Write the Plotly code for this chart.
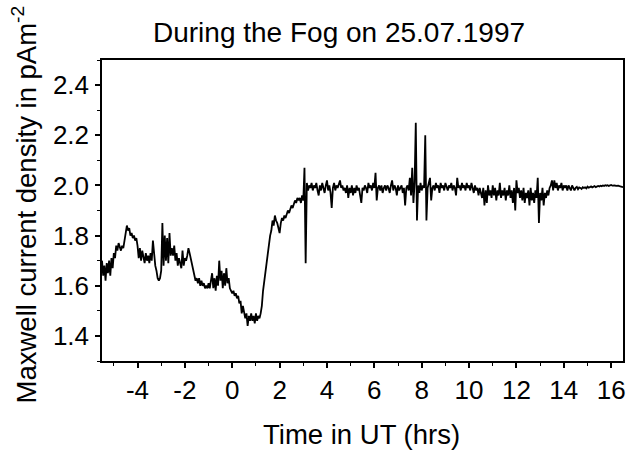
import numpy as np
import plotly.graph_objects as go

# ---- data ----
START_HR = -5.5
STEP_HR = 0.05

current_density = [
    # -5.50 .. -4.55
    1.70, 1.64, 1.68, 1.62, 1.69, 1.65, 1.70, 1.64, 1.71, 1.67, 1.73, 1.71, 1.76, 1.74, 1.77, 1.75, 1.74, 1.76, 1.75, 1.78,
    # -4.50 .. -3.55
    1.81, 1.84, 1.82, 1.83, 1.80, 1.81, 1.79, 1.80, 1.78, 1.79, 1.76, 1.71, 1.75, 1.70, 1.74, 1.72, 1.69, 1.73, 1.70, 1.72,
    # -3.50 .. -2.55
    1.69, 1.73, 1.70, 1.78, 1.71, 1.68, 1.66, 1.63, 1.62, 1.63, 1.66, 1.85, 1.68, 1.80, 1.70, 1.79, 1.69, 1.81, 1.72, 1.75,
    # -2.50 .. -1.55
    1.72, 1.76, 1.70, 1.73, 1.68, 1.71, 1.69, 1.67, 1.74, 1.68, 1.71, 1.70, 1.72, 1.75, 1.73, 1.71, 1.69, 1.66, 1.64, 1.62,
    # -1.50 .. -0.55
    1.63, 1.61, 1.63, 1.60, 1.62, 1.60, 1.61, 1.59, 1.60, 1.59, 1.61, 1.59, 1.62, 1.65, 1.59, 1.63, 1.58, 1.64, 1.60, 1.70,
    # -0.50 .. 0.45
    1.62, 1.66, 1.59, 1.65, 1.60, 1.67, 1.61, 1.63, 1.59, 1.58, 1.57, 1.58, 1.56, 1.57, 1.55, 1.56, 1.53, 1.54, 1.49, 1.52,
    # 0.50 .. 1.45
    1.50, 1.47, 1.49, 1.44, 1.48, 1.46, 1.49, 1.46, 1.48, 1.45, 1.49, 1.46, 1.48, 1.47, 1.49, 1.52, 1.58, 1.62, 1.66, 1.70,
    # 1.50 .. 2.45
    1.74, 1.77, 1.80, 1.82, 1.86, 1.84, 1.88, 1.86, 1.85, 1.83, 1.81, 1.85, 1.87, 1.86, 1.88, 1.87, 1.89, 1.90, 1.89, 1.91,
    # 2.50 .. 3.45
    1.92, 1.91, 1.93, 1.94, 1.93, 1.95, 1.94, 1.95, 1.93, 1.96, 1.94, 2.07, 1.69, 2.01, 1.98, 2.00, 1.99, 2.01, 1.98, 2.00,
    # 3.50 .. 4.45
    1.99, 2.01, 1.98, 1.96, 2.00, 1.98, 2.01, 1.99, 1.97, 2.00, 2.02, 1.98, 2.00, 1.97, 1.91, 1.99, 2.01, 1.98, 2.00, 1.99,
    # 4.50 .. 5.45
    2.01, 2.02, 1.99, 2.00, 1.98, 1.99, 1.97, 2.00, 1.95, 1.99, 1.97, 2.00, 1.96, 1.99, 1.97, 2.00, 1.98, 1.99, 1.96, 1.93,
    # 5.50 .. 6.45
    1.99, 1.98, 2.00, 1.99, 1.97, 2.01, 1.99, 2.00, 1.98, 2.01, 1.99, 2.05, 1.94, 1.99, 2.00, 1.98, 2.00, 1.97, 1.99, 2.00,
    # 6.50 .. 7.45
    1.98, 2.00, 1.99, 1.97, 2.00, 2.02, 1.98, 2.00, 1.99, 1.96, 2.00, 1.98, 1.99, 2.00, 1.97, 1.99, 1.92, 1.99, 2.00, 1.98,
    # 7.50 .. 8.45
    2.03, 1.96, 2.07, 1.93, 2.01, 2.25, 1.86, 2.00, 1.97, 2.01, 1.98, 2.00, 1.99, 2.20, 1.86, 1.99, 2.01, 2.03, 1.94, 1.99,
    # 8.50 .. 9.45
    2.00, 1.98, 2.01, 1.99, 2.00, 1.97, 2.01, 1.99, 2.00, 1.98, 2.01, 1.99, 1.98, 2.00, 1.99, 2.01, 1.98, 2.00, 1.99, 1.96,
    # 9.50 .. 10.45
    2.03, 1.99, 2.00, 1.98, 2.01, 1.99, 2.00, 1.98, 2.01, 1.99, 2.00, 1.98, 2.01, 1.99, 1.97, 2.00, 1.98, 1.99, 1.96, 1.99,
    # 10.50 .. 11.45
    1.97, 1.95, 1.99, 1.92, 1.98, 1.93, 2.00, 1.96, 1.98, 1.95, 2.00, 1.96, 1.99, 1.94, 1.98, 1.96, 2.01, 1.95, 1.98, 1.96,
    # 11.50 .. 12.45
    1.99, 1.94, 1.98, 1.96, 2.00, 1.95, 1.98, 1.93, 1.99, 1.90, 2.02, 1.97, 1.99, 1.95, 1.98, 1.94, 1.99, 1.93, 1.97, 1.95,
    # 12.50 .. 13.45
    1.98, 1.92, 1.99, 1.94, 1.97, 1.93, 1.98, 1.95, 2.03, 1.85, 1.97, 1.94, 1.99, 1.92, 1.97, 1.95, 1.98, 1.96, 1.99, 2.00,
    # 13.50 .. 14.45
    2.02, 1.98, 2.02, 1.99, 2.01, 1.98, 2.00, 1.99, 2.01, 1.98, 2.00, 1.99, 2.00, 1.98, 2.00, 1.99, 1.98, 2.00, 1.99, 1.98,
    # 14.50 .. 15.45
    1.990, 1.994, 1.985, 1.992, 1.990, 1.986, 1.993, 1.990, 1.992, 1.988, 1.995, 1.991, 1.993, 1.996, 1.992, 1.994, 1.997, 1.993, 1.996, 1.998,
    # 15.50 .. 16.50
    1.996, 1.999, 1.997, 2.000, 1.998, 2.001, 1.999, 2.001, 1.998, 2.000, 2.002, 1.999, 2.001, 2.000, 1.998, 2.000, 1.999, 1.997, 1.996, 1.994, 1.993,
]

x_tick_vals = [-4, -2, 0, 2, 4, 6, 8, 10, 12, 14, 16]
x_tick_text = ["-4", "-2", "0", "2", "4", "6", "8", "10", "12", "14", "16"]
y_tick_vals = [1.4, 1.6, 1.8, 2.0, 2.2, 2.4]
y_tick_text = ["1.4", "1.6", "1.8", "2.0", "2.2", "2.4"]

title_text = "During the Fog on 25.07.1997"
x_title = "Time in UT (hrs)"
y_title = "Maxwell current density in pAm<sup>-2</sup>"

time_hr = START_HR + STEP_HR * np.arange(len(current_density))

FONT = "Liberation Sans, Arial, Helvetica, sans-serif"

fig = go.Figure()
fig.add_trace(go.Scatter(
    x=time_hr, y=current_density, mode="lines",
    line=dict(color="black", width=1.8), showlegend=False,
))

axis_common = dict(
    showgrid=False, zeroline=False, showline=True, linecolor="black", linewidth=1.5,
    mirror=True, ticks="outside", ticklen=5, tickwidth=1.5, tickcolor="black",
    tickfont=dict(family=FONT, size=26, color="black"),
)
fig.update_xaxes(
    range=[-5.5, 16.5], tickmode="array", tickvals=x_tick_vals, ticktext=x_tick_text,
    minor=dict(ticks="outside", ticklen=3, tickwidth=1.2, tickcolor="black", dtick=1, tick0=0),
    **axis_common,
)
fig.update_yaxes(
    range=[1.3, 2.5], tickmode="array", tickvals=y_tick_vals, ticktext=y_tick_text,
    minor=dict(ticks="outside", ticklen=3, tickwidth=1.2, tickcolor="black", dtick=0.1, tick0=1.3),
    ticklabelstandoff=1,
    **axis_common,
)

fig.update_layout(
    width=632, height=453,
    margin=dict(l=102, r=6, t=60, b=92),
    plot_bgcolor="white", paper_bgcolor="white",
    font=dict(family=FONT, color="black"),
    annotations=[
        dict(text=title_text, xref="paper", yref="paper", x=(340 - 102) / 524, y=(361 - 33) / 301,
             xanchor="center", yanchor="middle", showarrow=False,
             font=dict(family=FONT, size=28, color="black")),
        dict(text=x_title, xref="paper", yref="paper", x=(363 - 102) / 524, y=(361 - 434) / 301,
             xanchor="center", yanchor="middle", showarrow=False,
             font=dict(family=FONT, size=27.5, color="black")),
        dict(text=y_title, xref="paper", yref="paper", x=(24 - 102) / 524, y=(361 - 204) / 301,
             xanchor="center", yanchor="middle", showarrow=False, textangle=-90,
             font=dict(family=FONT, size=27.5, color="black")),
    ],
)

fig.write_html("out.html", config={"displayModeBar": False},
               post_script="document.body.style.margin='0px';")
